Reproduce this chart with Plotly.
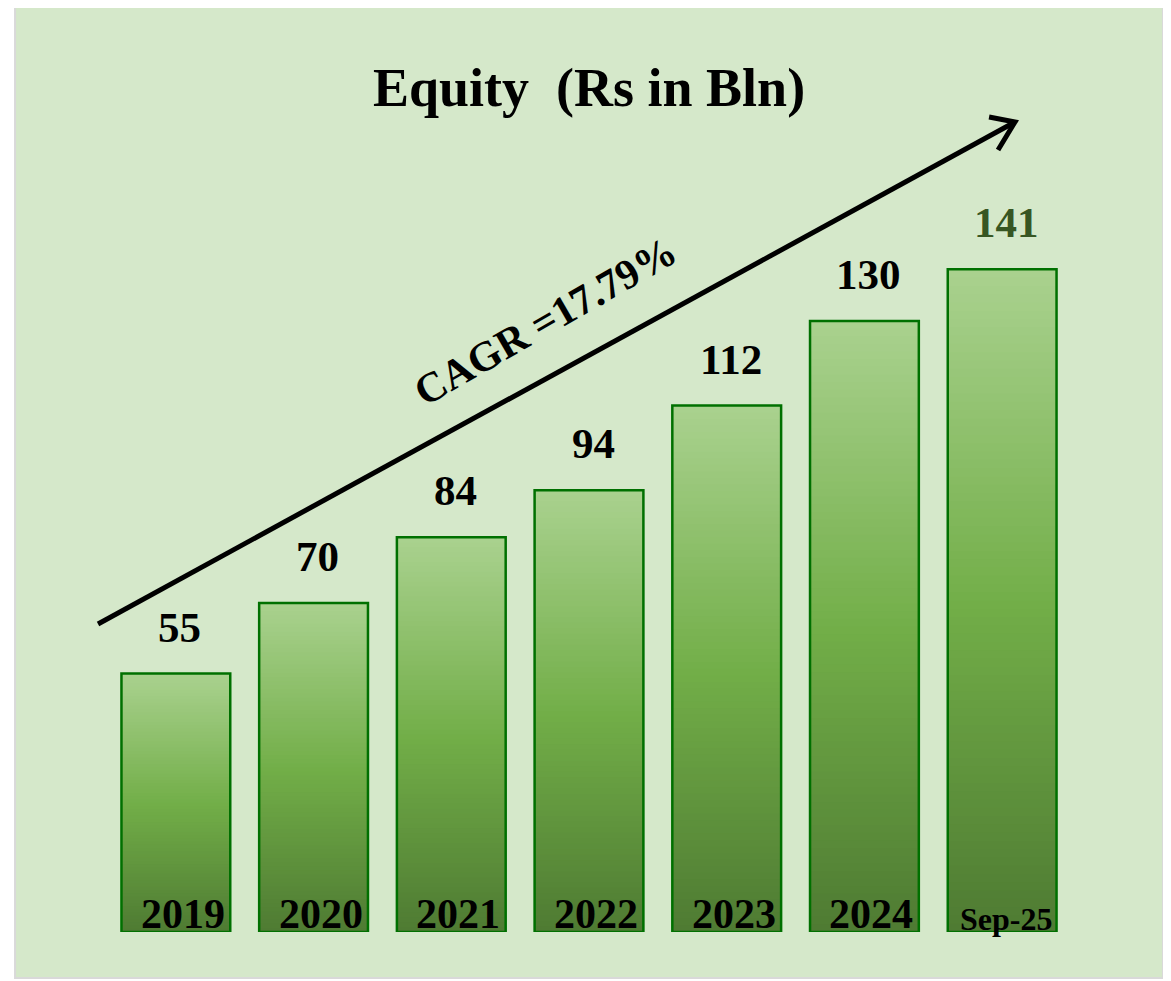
import plotly.graph_objects as go

# data
periods = ["2019", "2020", "2021", "2022", "2023", "2024", "Sep-25"]
equity = [55, 70, 84, 94, 112, 130, 141]
cagr_text = "CAGR =17.79%"
title_text = "Equity&nbsp; (Rs in Bln)"

FONT = "Liberation Serif, Times New Roman, serif"
PANEL = "#D5E8CA"
OUTLINE = "#007000"

# gradient stops, top -> bottom (light -> dark)
stops = [(0.0, (169, 209, 142)), (0.5, (114, 174, 72)), (1.0, (78, 122, 50))]


def grad_color(t):
    for (t0, c0), (t1, c1) in zip(stops[:-1], stops[1:]):
        if t0 <= t <= t1:
            f = (t - t0) / (t1 - t0)
            return "rgb(%d,%d,%d)" % tuple(round(a + (b - a) * f) for a, b in zip(c0, c1))
    return "rgb(%d,%d,%d)" % stops[-1][1]


fig = go.Figure()

## fake a vertical gradient: overlay bars from tallest (light) to shortest (dark)
N = 80
for k in range(N):
    frac = 1 - k / N
    fig.add_trace(go.Bar(
        x=periods,
        y=[v * frac for v in equity],
        marker=dict(color=grad_color(k / N), line=dict(width=0)),
        hoverinfo="skip",
        showlegend=False,
    ))

# outline
fig.add_trace(go.Bar(
    x=periods,
    y=equity,
    marker=dict(color="rgba(0,0,0,0)", line=dict(color=OUTLINE, width=2.5)),
    showlegend=False,
))

# value labels above bars, period labels inside bar bottoms
# (x given as category index: "2019" would be read as a number)
for i, (p, v) in enumerate(zip(periods, equity)):
    fig.add_annotation(
        x=i, y=v, xref="x", yref="y", text=str(v), showarrow=False,
        yanchor="bottom", yshift=21, xshift=4,
        font=dict(family=FONT, size=43, weight="bold",
                  color="#375623" if i == len(periods) - 1 else "black"),
    )
    fig.add_annotation(
        x=i, y=0, xref="x", yref="y", text=p, showarrow=False,
        yanchor="bottom", yshift=-7, xshift=7 if len(p) == 4 else 4,
        font=dict(family=FONT, size=32 if len(p) > 4 else 42, weight="bold", color="black"),
    )

# title
fig.add_annotation(
    x=0.5, y=1.056, xref="paper", yref="paper", text=title_text, showarrow=False,
    yanchor="middle", xanchor="center",
    font=dict(family=FONT, size=54, weight="bold", color="black"),
)

# CAGR text along the arrow
fig.add_annotation(
    x=0.455, y=0.885, xref="paper", yref="paper", text=cagr_text, showarrow=False,
    textangle=-30,
    font=dict(family=FONT, size=42, weight="bold", color="black"),
)

## background panel + arrow
fig.add_shape(type="rect", xref="paper", yref="paper",
              x0=-0.0954, x1=1.0954, y0=-0.0576, y1=1.1627,
              fillcolor=PANEL, line=dict(color="#D9D9D9", width=2), layer="below")
fig.add_shape(type="line", xref="paper", yref="paper",
              x0=-0.0093, y0=0.3855, x1=0.9419, y1=1.0138,
              line=dict(color="black", width=5))
fig.add_shape(type="path", xref="paper", yref="paper",
              path="M 0.915 1.020 L 0.9419 1.0138 L 0.9243 0.9787",
              line=dict(color="black", width=5))

fig.update_xaxes(type="category", range=[-0.5, 6.5], showticklabels=False,
                 showgrid=False, zeroline=False, showline=False)
fig.update_yaxes(range=[0, 170], showticklabels=False, showgrid=False,
                 zeroline=False, showline=False)

## page body has an 8px margin, so the figure is trimmed by that much
fig.update_layout(
    width=1163,
    height=973,
    barmode="overlay",
    bargap=0.21,
    paper_bgcolor="white",
    plot_bgcolor="rgba(0,0,0,0)",
    margin={"l": 99, "r": 100, "t": 125, "b": 49},
    showlegend=False,
)

fig.write_html("out.html")
